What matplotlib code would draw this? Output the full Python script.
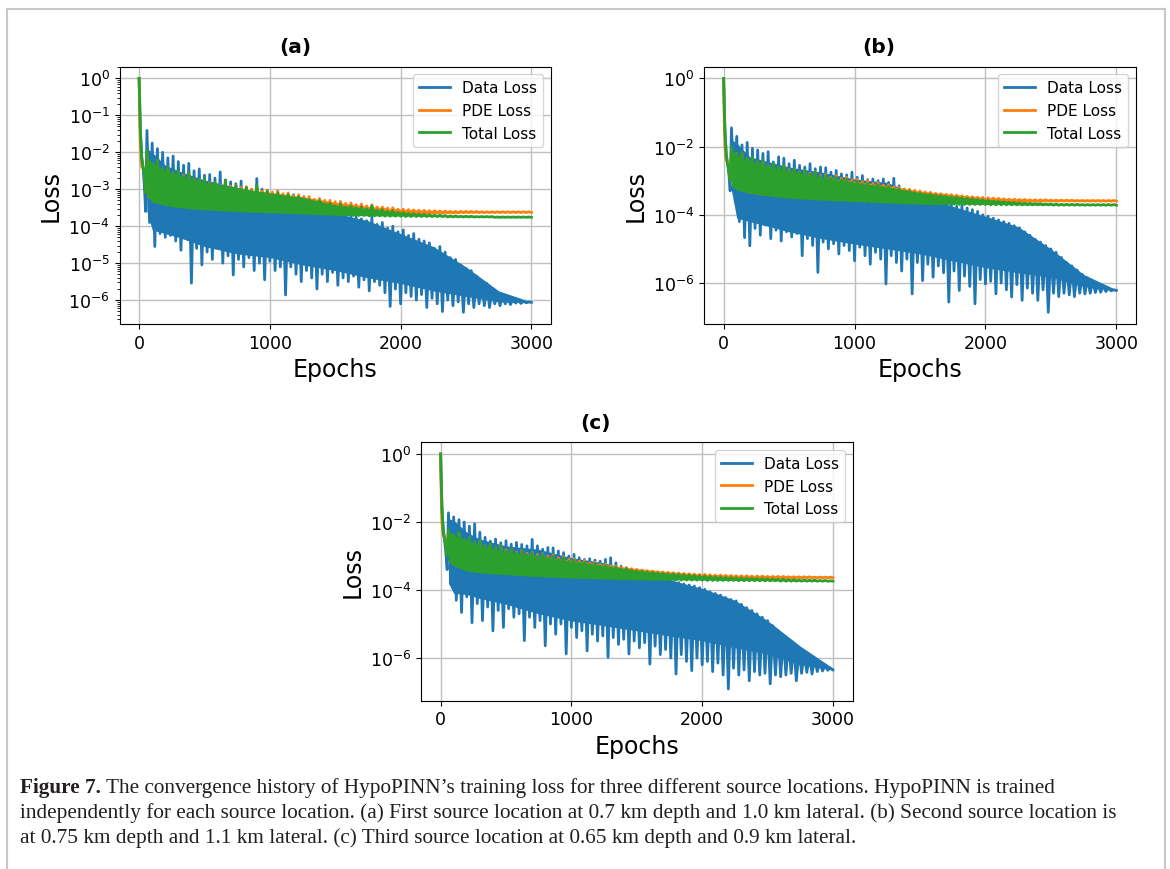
import numpy as np
import matplotlib
matplotlib.use('Agg')
import matplotlib.pyplot as plt
from matplotlib.lines import Line2D
from matplotlib.ticker import MultipleLocator

# loss values are log10.
# line: head (epochs 0..50), then alternating peaks (60, 100, ...) and troughs (80, 120, ...)
HEAD_EPOCHS = [0, 5, 10, 20, 30, 40, 50]
EPOCHS = np.array(HEAD_EPOCHS + list(range(60, 3001, 20)))
# dense band of each curve (where the oscillation fills solid), read at these epochs
CORE_EPOCHS = [60, 100, 200, 300, 500, 750, 1000, 1250, 1500, 1750, 2000, 2250, 2500, 2750, 3000]

# ---- panel (a) ----
data_head_a = [0.0, -0.7, -1.4, -2.1, -2.4, -2.9, -3.6]
data_peak_a = [-1.41, -1.75, -1.9, -2.0, -2.15, -2.1, -2.25, -2.35, -2.3, -2.5,
               -2.45, -2.62, -2.6, -2.7, -2.53, -2.75, -2.8, -2.85, -2.78, -2.95,
               -3.0, -2.71, -3.0, -3.05, -3.1, -3.05, -3.15, -3.2, -3.15, -3.25,
               -3.2, -3.3, -3.4, -3.5, -3.45, -3.6, -3.65, -3.7, -3.65, -3.7,
               -3.75, -3.8, -3.85, -3.75, -3.95, -3.9, -4.05, -4.0, -4.15, -4.1,
               -4.25, -4.2, -4.35, -4.4, -4.45, -4.6, -4.55, -4.7, -4.85, -4.9,
               -5.05, -5.15, -5.2, -5.35, -5.5, -5.55, -5.7, -5.8, -5.85, -5.92,
               -5.97, -6.0, -6.03, -6.05]
data_trough_a = [-3.9, -4.55, -4.2, -4.3, -4.25, -4.4, -4.65, -4.3, -5.54, -4.6,
                 -5.05, -4.7, -4.9, -4.6, -5.0, -4.8, -5.32, -4.9, -5.1, -4.85,
                 -5.2, -5.0, -5.45, -4.95, -5.2, -5.1, -5.86, -5.1, -5.3, -5.5,
                 -5.2, -5.4, -5.7, -5.3, -5.5, -5.25, -5.6, -5.4, -5.5, -5.35,
                 -5.65, -5.45, -5.75, -5.5, -5.6, -5.8, -6.17, -5.7, -6.1, -5.8,
                 -5.9, -6.0, -5.85, -6.2, -5.95, -6.1, -6.31, -6.0, -6.15, -6.05,
                 -6.33, -6.1, -6.2, -6.1, -6.15, -6.2, -6.1, -6.15, -6.1, -6.12,
                 -6.08, -6.09, -6.07, -6.06]
data_core_hi_a = [-1.9, -2.0, -2.35, -2.5, -2.75, -2.95, -3.15, -3.3, -3.65, -3.85, -4.2, -4.55, -5.1, -5.75, -6.05]
data_core_lo_a = [-3.6, -4.1, -4.2, -4.3, -4.55, -4.75, -4.85, -5.05, -5.2, -5.4, -5.55, -5.75, -5.9, -6.05, -6.07]
pde_head_a = [0.0, -1.2, -1.9, -2.4, -2.42, -2.5, -2.9]
pde_peak_a = [-2.05, -2.3, -2.28, -2.45, -2.45, -2.55, -2.55, -2.62, -2.6, -2.72,
              -2.75, -2.72, -2.83, -2.82, -2.88, -2.8, -2.92, -2.9, -2.95, -2.93,
              -3.0, -2.93, -3.05, -3.02, -3.08, -3.05, -3.12, -3.1, -3.18, -3.15,
              -3.22, -3.2, -3.27, -3.25, -3.3, -3.3, -3.34, -3.33, -3.38, -3.37,
              -3.42, -3.4, -3.45, -3.42, -3.48, -3.48, -3.51, -3.5, -3.54, -3.54,
              -3.55, -3.56, -3.57, -3.57, -3.58, -3.58, -3.59, -3.59, -3.6, -3.6,
              -3.6, -3.6, -3.6, -3.6] + [-3.61] * 10
pde_trough_a = [-3.2, -3.33, -3.36, -3.4, -3.43, -3.45, -3.47, -3.48, -3.5, -3.51,
                -3.52, -3.53, -3.54, -3.54, -3.55, -3.56, -3.56, -3.57, -3.58, -3.58,
                -3.59, -3.59, -3.6, -3.61, -3.61, -3.62, -3.62, -3.63, -3.63, -3.64,
                -3.64, -3.65, -3.65, -3.66, -3.66, -3.67, -3.67, -3.67, -3.68, -3.68,
                -3.68, -3.68, -3.68, -3.68, -3.67, -3.67, -3.67, -3.66, -3.66, -3.66,
                -3.66, -3.65, -3.65, -3.65, -3.65, -3.64, -3.64, -3.64, -3.64, -3.64] + [-3.63] * 14
pde_core_hi_a = [-2.2, -2.4, -2.55, -2.7, -2.88, -2.98, -3.08, -3.2, -3.35, -3.46, -3.54, -3.58, -3.6, -3.61, -3.61]
pde_core_lo_a = [-3.2, -3.33, -3.42, -3.48, -3.53, -3.58, -3.62, -3.64, -3.67, -3.67, -3.66, -3.65, -3.64, -3.63, -3.63]
total_head_a = [0.0, -0.8, -1.5, -2.2, -2.4, -2.6, -3.1]
total_peak_a = [-1.95, -2.3, -2.2, -2.45, -2.4, -2.55, -2.5, -2.65, -2.55, -2.7,
                -2.75, -2.7, -2.85, -2.8, -2.9, -2.75, -2.95, -2.9, -3.0, -2.95,
                -3.05, -2.9, -3.1, -3.05, -3.15, -3.1, -3.2, -3.15, -3.25, -3.2,
                -3.3, -3.28, -3.35, -3.3, -3.4, -3.38, -3.45, -3.4, -3.48, -3.45,
                -3.5, -3.48, -3.53, -3.45, -3.56, -3.55, -3.6, -3.58, -3.62, -3.63,
                -3.65, -3.66, -3.67, -3.68, -3.69, -3.7, -3.7, -3.71, -3.72, -3.72,
                -3.73, -3.73, -3.73, -3.74, -3.74, -3.74, -3.74] + [-3.75] * 7
total_trough_a = [-3.2, -3.35, -3.38, -3.42, -3.45, -3.47, -3.49, -3.5, -3.52, -3.53,
                  -3.54, -3.55, -3.56, -3.56, -3.57, -3.58, -3.58, -3.59, -3.6, -3.6,
                  -3.61, -3.61, -3.62, -3.63, -3.63, -3.64, -3.64, -3.65, -3.65, -3.66,
                  -3.66, -3.67, -3.67, -3.68, -3.68, -3.69, -3.7, -3.7, -3.7, -3.71,
                  -3.71, -3.71, -3.72, -3.72, -3.72, -3.73, -3.73, -3.73, -3.73] + \
                 [-3.74] * 8 + [-3.75] * 9 + [-3.76] * 8
total_core_hi_a = [-2.1, -2.3, -2.5, -2.62, -2.82, -2.97, -3.1, -3.22, -3.42, -3.52, -3.62, -3.69, -3.73, -3.75, -3.75]
total_core_lo_a = [-3.2, -3.34, -3.43, -3.49, -3.55, -3.6, -3.63, -3.66, -3.7, -3.72, -3.73, -3.74, -3.75, -3.76, -3.76]

# ---- panel (b) ----
data_head_b = [0.0, -0.8, -1.5, -2.2, -2.5, -2.8, -3.3]
data_peak_b = [-1.45, -1.7, -1.95, -1.88, -2.05, -2.1, -2.2, -2.15, -2.45, -2.3,
               -2.34, -2.5, -2.4, -2.55, -2.6, -2.5, -2.65, -2.6, -2.62, -2.75,
               -2.7, -2.8, -2.83, -2.75, -2.9, -2.85, -2.97, -2.95, -3.0, -2.95,
               -3.05, -2.93, -3.15, -3.25, -3.3, -3.4, -3.45, -3.5, -3.55, -3.6,
               -3.68, -3.7, -3.72, -3.75, -3.73, -3.8, -3.85, -3.9, -4.0, -4.04,
               -4.1, -4.15, -4.2, -4.25, -4.32, -4.38, -4.5, -4.6, -4.72, -4.8,
               -4.9, -5.0, -5.1, -5.25, -5.4, -5.5, -5.62, -5.75, -5.85, -5.95,
               -6.02, -6.08, -6.15, -6.2]
data_trough_b = [-3.3, -4.2, -4.67, -4.91, -4.4, -4.6, -4.3, -4.7, -4.45, -4.77,
                 -4.5, -4.65, -4.55, -5.2, -4.7, -4.9, -5.69, -4.8, -5.0, -4.85,
                 -5.15, -4.9, -5.05, -5.35, -4.95, -5.2, -5.45, -5.1, -5.3, -6.03,
                 -5.2, -5.4, -5.65, -5.3, -6.32, -5.4, -5.93, -5.45, -5.83, -5.5,
                 -5.7, -6.56, -5.65, -6.22, -5.8, -6.1, -6.61, -5.9, -6.03, -5.95,
                 -6.32, -6.0, -6.2, -6.41, -6.05, -6.51, -6.15, -6.3, -6.51, -6.2,
                 -6.86, -6.3, -6.4, -6.3, -6.35, -6.4, -6.3, -6.32, -6.3, -6.28,
                 -6.27, -6.25, -6.23, -6.22]
data_core_hi_b = [-1.8, -1.9, -2.3, -2.4, -2.6, -2.75, -2.95, -3.05, -3.45, -3.75, -4.04, -4.35, -5.0, -5.75, -6.2]
data_core_lo_b = [-3.3, -4.1, -4.2, -4.3, -4.5, -4.7, -4.86, -5.0, -5.15, -5.35, -5.55, -5.7, -5.83, -6.1, -6.22]
pde_head_b = [0.0, -1.3, -2.0, -2.4, -2.45, -2.5, -2.9]
pde_peak_b = [-2.05, -2.2, -2.2, -2.35, -2.32, -2.45, -2.42, -2.55, -2.52, -2.6,
              -2.57, -2.68, -2.65, -2.74, -2.7, -2.78, -2.74, -2.85, -2.82, -2.9,
              -2.86, -2.93, -2.9, -2.98, -2.96, -3.03, -3.0, -3.08, -3.06, -3.13,
              -3.12, -3.18, -3.2, -3.24, -3.25, -3.28, -3.3, -3.33, -3.34, -3.37,
              -3.38, -3.4, -3.41, -3.42, -3.44, -3.46, -3.47, -3.48, -3.49, -3.5,
              -3.51, -3.52, -3.53, -3.54, -3.54, -3.55, -3.55, -3.56, -3.56, -3.56,
              -3.56, -3.57, -3.57, -3.57, -3.57, -3.57] + [-3.58] * 8
pde_trough_b = [-3.15, -3.26, -3.29, -3.33, -3.36, -3.38, -3.4, -3.42, -3.44, -3.45,
                -3.47, -3.48, -3.49, -3.5, -3.51, -3.52, -3.53, -3.54, -3.55, -3.56,
                -3.56, -3.57, -3.58, -3.58, -3.59, -3.6, -3.61, -3.61, -3.62, -3.63,
                -3.63, -3.64, -3.64, -3.65, -3.65, -3.66, -3.66, -3.66, -3.66, -3.66,
                -3.65, -3.65, -3.65, -3.64, -3.64, -3.64, -3.63, -3.63, -3.63, -3.63,
                -3.62, -3.62, -3.62, -3.62, -3.61, -3.61, -3.61, -3.61, -3.61] + [-3.6] * 15
pde_core_hi_b = [-2.2, -2.3, -2.48, -2.6, -2.76, -2.9, -3.02, -3.15, -3.3, -3.4, -3.49, -3.53, -3.56, -3.58, -3.58]
pde_core_lo_b = [-3.15, -3.26, -3.36, -3.42, -3.49, -3.55, -3.59, -3.63, -3.66, -3.65, -3.63, -3.61, -3.6, -3.6, -3.6]
total_head_b = [0.0, -0.9, -1.6, -2.3, -2.5, -2.7, -3.0]
total_peak_b = [-2.0, -2.2, -2.15, -2.35, -2.3, -2.45, -2.4, -2.55, -2.5, -2.6,
                -2.55, -2.7, -2.65, -2.75, -2.7, -2.8, -2.75, -2.88, -2.85, -2.93,
                -2.9, -2.98, -2.95, -3.05, -3.02, -3.1, -3.08, -3.15, -3.12, -3.2,
                -3.18, -3.25, -3.25, -3.3, -3.3, -3.35, -3.36, -3.4, -3.4, -3.43,
                -3.44, -3.46, -3.47, -3.48, -3.5, -3.52, -3.53, -3.55, -3.56, -3.58,
                -3.6, -3.61, -3.62, -3.63, -3.64, -3.65, -3.66, -3.66, -3.67, -3.67,
                -3.68, -3.68, -3.68, -3.69, -3.69, -3.69, -3.69] + [-3.7] * 7
total_trough_b = [-3.15, -3.27, -3.3, -3.35, -3.38, -3.4, -3.42, -3.44, -3.46, -3.47,
                  -3.49, -3.5, -3.51, -3.52, -3.53, -3.54, -3.55, -3.56, -3.57, -3.58,
                  -3.58, -3.59, -3.6, -3.6, -3.61, -3.62, -3.63, -3.63, -3.64, -3.65,
                  -3.65, -3.66, -3.66, -3.67, -3.67, -3.68, -3.68] + \
                 [-3.69] * 6 + [-3.7] * 6 + [-3.71] * 12 + [-3.72] * 13
total_core_hi_b = [-2.1, -2.25, -2.42, -2.55, -2.72, -2.9, -3.05, -3.18, -3.35, -3.46, -3.55, -3.62, -3.67, -3.7, -3.7]
total_core_lo_b = [-3.15, -3.27, -3.36, -3.42, -3.51, -3.56, -3.6, -3.64, -3.68, -3.69, -3.7, -3.71, -3.72, -3.72, -3.72]

# ---- panel (c) ----
data_head_c = [0.0, -0.8, -1.5, -2.2, -2.5, -2.9, -3.4]
data_peak_c = [-1.73, -1.85, -1.93, -2.0, -2.12, -2.05, -2.3, -2.45, -2.56, -2.5,
               -2.61, -2.55, -2.65, -2.6, -2.66, -2.7, -2.51, -2.7, -2.8, -2.75,
               -2.76, -2.85, -2.9, -3.0, -2.95, -3.05, -3.1, -3.08, -3.12, -3.15,
               -3.1, -3.05, -3.2, -3.3, -3.35, -3.4, -3.45, -3.5, -3.55, -3.62,
               -3.65, -3.68, -3.72, -3.75, -3.78, -3.82, -3.85, -3.88, -3.93, -3.98,
               -4.05, -4.1, -4.15, -4.22, -4.28, -4.32, -4.42, -4.52, -4.6, -4.7,
               -4.8, -4.9, -5.05, -5.2, -5.35, -5.45, -5.6, -5.72, -5.82, -5.92,
               -6.0, -6.1, -6.2, -6.3]
data_trough_c = [-3.83, -4.3, -4.66, -4.2, -4.96, -4.4, -4.9, -4.5, -5.2, -4.6,
                 -5.1, -4.55, -4.8, -4.7, -5.49, -4.8, -5.1, -4.9, -5.64, -5.0,
                 -5.3, -5.0, -5.88, -5.1, -5.4, -5.2, -5.79, -5.3, -5.5, -5.35,
                 -5.98, -5.4, -5.6, -5.45, -5.88, -5.5, -5.7, -5.55, -6.18, -5.65,
                 -5.9, -5.75, -6.0, -6.47, -5.9, -6.1, -6.37, -6.0, -6.2, -6.1,
                 -6.4, -6.15, -6.5, -6.91, -6.3, -6.5, -6.35, -6.67, -6.4, -6.5,
                 -6.45, -6.76, -6.5, -6.55, -6.5, -6.45, -6.67, -6.45, -6.42, -6.47,
                 -6.4, -6.38, -6.36, -6.35]
data_core_hi_c = [-1.9, -1.95, -2.3, -2.5, -2.7, -2.8, -3.05, -3.2, -3.45, -3.7, -3.95, -4.3, -4.9, -5.65, -6.3]
data_core_lo_c = [-3.8, -4.1, -4.13, -4.25, -4.42, -4.7, -4.91, -5.05, -5.2, -5.35, -5.49, -5.7, -5.88, -6.2, -6.35]
pde_head_c = [0.0, -1.3, -2.0, -2.4, -2.45, -2.5, -2.9]
pde_peak_c = [-2.27, -2.4, -2.34, -2.52, -2.48, -2.6, -2.57, -2.7, -2.66, -2.75,
              -2.7, -2.82, -2.8, -2.88, -2.84, -2.92, -2.89, -2.96, -2.93, -3.0,
              -2.97, -3.05, -3.02, -3.1, -3.08, -3.15, -3.13, -3.2, -3.18, -3.25,
              -3.24, -3.29, -3.3, -3.33, -3.34, -3.37, -3.39, -3.41, -3.43, -3.44,
              -3.46, -3.47, -3.48, -3.49, -3.5, -3.51, -3.52, -3.53, -3.54, -3.54,
              -3.55, -3.56, -3.56, -3.57, -3.57, -3.58, -3.58, -3.58, -3.59, -3.59,
              -3.59, -3.6, -3.6, -3.6, -3.6, -3.61, -3.61, -3.61, -3.61, -3.61,
              -3.62, -3.62, -3.62, -3.62]
pde_trough_c = [-3.15, -3.28, -3.33, -3.4, -3.42, -3.44, -3.46, -3.48, -3.49, -3.5,
                -3.51, -3.52, -3.53, -3.54, -3.55, -3.56, -3.57, -3.58, -3.58, -3.59,
                -3.6, -3.6, -3.61, -3.62, -3.62, -3.63, -3.63, -3.64, -3.64, -3.65,
                -3.65, -3.65, -3.66, -3.66, -3.66, -3.67, -3.67, -3.67, -3.67, -3.67,
                -3.67, -3.67, -3.67, -3.66, -3.66, -3.66, -3.66, -3.66, -3.65, -3.65,
                -3.65, -3.65, -3.65, -3.65] + [-3.64] * 20
pde_core_hi_c = [-2.3, -2.45, -2.6, -2.74, -2.9, -3.02, -3.13, -3.25, -3.37, -3.46, -3.53, -3.57, -3.59, -3.61, -3.62]
pde_core_lo_c = [-3.15, -3.28, -3.42, -3.48, -3.53, -3.58, -3.62, -3.65, -3.67, -3.67, -3.66, -3.65, -3.64, -3.64, -3.64]
total_head_c = [0.0, -0.9, -1.6, -2.3, -2.5, -2.7, -3.0]
total_peak_c = [-2.22, -2.37, -2.3, -2.5, -2.45, -2.6, -2.55, -2.7, -2.65, -2.75,
                -2.7, -2.85, -2.8, -2.9, -2.85, -2.95, -2.9, -3.0, -2.95, -3.05,
                -3.0, -3.1, -3.05, -3.15, -3.12, -3.2, -3.18, -3.25, -3.22, -3.3,
                -3.28, -3.34, -3.33, -3.38, -3.37, -3.42, -3.44, -3.45, -3.47, -3.48,
                -3.5, -3.51, -3.52, -3.53, -3.54, -3.55, -3.56, -3.57, -3.58, -3.59,
                -3.6, -3.61, -3.62, -3.63, -3.63, -3.64, -3.64, -3.65, -3.65, -3.66,
                -3.66, -3.67, -3.67, -3.68, -3.68, -3.69, -3.69, -3.7, -3.7, -3.71,
                -3.71, -3.72, -3.72, -3.73]
total_trough_c = [-3.15, -3.29, -3.35, -3.42, -3.44, -3.46, -3.48, -3.5, -3.51, -3.52,
                  -3.53, -3.54, -3.55, -3.56, -3.57, -3.58, -3.59, -3.6, -3.6, -3.61,
                  -3.62, -3.62, -3.63, -3.64, -3.64, -3.65, -3.65, -3.66, -3.66, -3.67,
                  -3.67, -3.67, -3.68, -3.68, -3.68, -3.69, -3.69, -3.69, -3.7, -3.7,
                  -3.7, -3.7, -3.7] + [-3.71] * 6 + [-3.72] * 6 + [-3.73] * 8 + [-3.74] * 11
total_core_hi_c = [-2.25, -2.4, -2.55, -2.7, -2.88, -3.02, -3.15, -3.28, -3.42, -3.51, -3.58, -3.63, -3.66, -3.7, -3.73]
total_core_lo_c = [-3.15, -3.29, -3.44, -3.49, -3.54, -3.6, -3.64, -3.67, -3.69, -3.7, -3.71, -3.72, -3.73, -3.74, -3.74]

TITLES = ['(a)', '(b)', '(c)']
LABELS = ['Data Loss', 'PDE Loss', 'Total Loss']
COLORS = ['tab:blue', 'tab:orange', 'tab:green']
CAPTION_BOLD = 'Figure 7.'
CAPTION_LINES = [
    " The convergence history of HypoPINN\u2019s training loss for three different source "
    "locations. HypoPINN is trained",
    'independently for each source location. (a) First source location at 0.7 km depth and '
    '1.0 km lateral. (b) Second source location is',
    'at 0.75 km depth and 1.1 km lateral. (c) Third source location at 0.65 km depth and '
    '0.9 km lateral.',
]

W, H = 1170, 870


def series(head, peaks, troughs):
    zig = np.column_stack([peaks, troughs]).ravel()
    return 10.0 ** np.concatenate([head, zig])


def rect(left, top, right, bottom):
    return [left / W, 1 - bottom / H, (right - left) / W, (bottom - top) / H]


fig = plt.figure(figsize=(W / 100, H / 100), dpi=100)

panels = [
    (rect(119.5, 67.7, 551, 325), (295, 47.5),
     [(data_head_a, data_peak_a, data_trough_a, data_core_hi_a, data_core_lo_a),
      (pde_head_a, pde_peak_a, pde_trough_a, pde_core_hi_a, pde_core_lo_a),
      (total_head_a, total_peak_a, total_trough_a, total_core_hi_a, total_core_lo_a)]),
    (rect(704, 67.7, 1136, 325), (879, 47.5),
     [(data_head_b, data_peak_b, data_trough_b, data_core_hi_b, data_core_lo_b),
      (pde_head_b, pde_peak_b, pde_trough_b, pde_core_hi_b, pde_core_lo_b),
      (total_head_b, total_peak_b, total_trough_b, total_core_hi_b, total_core_lo_b)]),
    (rect(421, 443.3, 852.6, 701.7), (596, 424),
     [(data_head_c, data_peak_c, data_trough_c, data_core_hi_c, data_core_lo_c),
      (pde_head_c, pde_peak_c, pde_trough_c, pde_core_hi_c, pde_core_lo_c),
      (total_head_c, total_peak_c, total_trough_c, total_core_hi_c, total_core_lo_c)]),
]

for title, (pos, tpos, curves) in zip(TITLES, panels):
    ax = fig.add_axes(pos)
    ax.set_axisbelow(True)
    for label, color, (head, pk, tr, chi, clo) in zip(LABELS, COLORS, curves):
        ax.fill_between(CORE_EPOCHS, 10.0 ** np.array(clo), 10.0 ** np.array(chi),
                        color=color, lw=0, zorder=2)
        ax.semilogy(EPOCHS, series(head, pk, tr), color=color, lw=2, label=label, zorder=2)
    ax.xaxis.set_major_locator(MultipleLocator(1000))
    ax.grid(True, color='#c0c0c0', lw=1.0)
    ax.set_xlabel('Epochs', fontsize=17)
    ax.set_ylabel('Loss', fontsize=17)
    ax.tick_params(labelsize=12.5)
    ax.legend(loc='upper right', fontsize=11)
    fig.text(tpos[0] / W, 1 - tpos[1] / H, title, ha='center', va='center',
             fontsize=14.5, fontweight='bold')

# page frame
frame = dict(transform=fig.transFigure, color='#c8c8c8', lw=1.5)
fig.add_artist(Line2D([7 / W, 7 / W], [0, 1 - 10 / H], **frame))
fig.add_artist(Line2D([7 / W, 1165 / W], [1 - 10 / H, 1 - 10 / H], **frame))
fig.add_artist(Line2D([1165 / W, 1165 / W], [0, 1 - 10 / H], **frame))

# caption
cap = dict(family='Liberation Serif', fontsize=15.3, color='#231f20', va='baseline')
baselines = [793, 818, 843]
t1 = fig.text(20 / W, 1 - baselines[0] / H, CAPTION_BOLD, fontweight='bold', **cap)
bb = t1.get_window_extent(fig.canvas.get_renderer())
fig.text(bb.x1 / W, 1 - baselines[0] / H, CAPTION_LINES[0], **cap)
for line, y in zip(CAPTION_LINES[1:], baselines[1:]):
    fig.text(20 / W, 1 - y / H, line, **cap)

fig.savefig('out.png', dpi=100)
